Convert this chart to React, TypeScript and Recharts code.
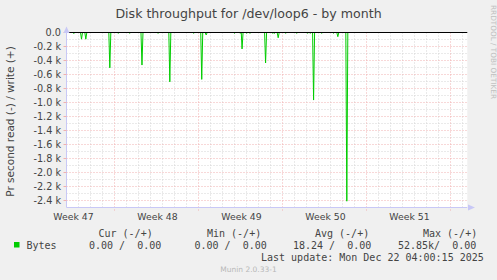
import { CartesianGrid, Line, LineChart, ReferenceLine, XAxis, YAxis } from "recharts";

// days counted from Mon 17 Nov 2025 (start of week 47)
const spikeDays = [
  3.61, 4.25, 4.61, 6.61, 7.31, 8.27, 9.29, 10.63, 11.61, 13.6, 14.27, 14.64, 17.0, 17.48, 17.63,
  18.02, 18.29, 19.59, 20.18, 20.31, 20.64, 21.27, 22.19, 23.1, 23.31, 23.59, 24.27, 25.25, 25.61,
  26.36,
];
const readBytes = [
  -15, -95, -95, -505, -10, -10, -465, -10, -705, -10, -670, -35, -10, -10, -235, -10, -10, -435,
  -10, -15, -75, -10, -10, -10, -10, -965, -10, -10, -60, -2410,
];
const sampleStep = 1 / 12; // 2h consolidation
const seriesRange = [3, 36.25];

const weekLabels = ["Week 47", "Week 48", "Week 49", "Week 50", "Week 51"];
const weekLabelDays = [3.5, 10.5, 17.5, 24.5, 31.5];
const weekStartDays = [7, 14, 21, 28, 35];
const dayLines = [
  4, 5, 6, 8, 9, 10, 11, 12, 13, 15, 16, 17, 18, 19, 20, 22, 23, 24, 25, 26, 27, 29, 30, 31, 32, 33,
  34, 36,
];
const yTicks = [-2400, -2200, -2000, -1800, -1600, -1400, -1200, -1000, -800, -600, -400, -200, 0];
const yMinor = [-2300, -2100, -1900, -1700, -1500, -1300, -1100, -900, -700, -500, -300, -100];

const legendHead = ["Cur (-/+)", "Min (-/+)", "Avg (-/+)", "Max (-/+)"];
const legendVals = ["0.00 /  0.00", "0.00 /  0.00", "18.24 /  0.00", "52.85k/  0.00"];

const rows: { d: number; v: number }[] = [
  { d: seriesRange[0], v: 0 },
  { d: seriesRange[1], v: 0 },
];
spikeDays.forEach((d, i) => {
  rows.push({ d: d - sampleStep, v: 0 }, { d, v: readBytes[i] }, { d: d + sampleStep, v: 0 });
});
rows.sort((a, b) => a.d - b.d);

const TXT = "#444";
const FONT = "DejaVu Sans, sans-serif";
const MONO = "DejaVu Sans Mono, monospace";
const MAJOR = "#f0b0b0";
const MINOR = "#d4d4d4";
const AXIS = "#c8c8f6";

const fmtY = (v: number) => (v === 0 ? "0.0" : `${(v / 1000).toFixed(1)} k`);

function YTick(props: any) {
  const { x, y, payload } = props;
  return (
    <text x={x} y={y + 3.5} textAnchor="end" fontFamily={FONT} fontSize={9.7} fill={TXT}>
      {fmtY(payload.value)}
    </text>
  );
}

function XTick(props: any) {
  const { x, y, index } = props;
  return (
    <text x={x + 1} y={y} textAnchor="middle" fontFamily={FONT} fontSize={9.3} fill={TXT}>
      {weekLabels[index]}
    </text>
  );
}

function Mono({ x, y, children }: { x: number; y: number; children: string }) {
  return (
    <text x={x} y={y} fontFamily={MONO} fontSize={10} fill={TXT} xmlSpace="preserve" style={{ whiteSpace: "pre" }}>
      {children}
    </text>
  );
}

export default function App() {
  const headX = [98.5, 207, 315, 423];
  const valX = [89, 194.5, 293, 398];
  return (
    <div style={{ position: "absolute", left: 0, top: 0, width: 497, height: 280, background: "#f0f0f0" }}>
      <LineChart
        width={497}
        height={280}
        data={rows}
        margin={{ top: 32.5, right: 29.7, bottom: 52.5, left: 6.5 }}
      >
        <CartesianGrid fill="#ffffff" horizontal={false} vertical={false} />
        {yMinor.map((v) => (
          <ReferenceLine key={"ym" + v} y={v} stroke={MINOR} strokeDasharray="1 2" />
        ))}
        {dayLines.map((d) => (
          <ReferenceLine key={"xm" + d} x={d} stroke={MINOR} strokeDasharray="1 2" />
        ))}
        {yTicks
          .filter((v) => v !== 0)
          .map((v) => (
            <ReferenceLine key={"yM" + v} y={v} stroke={MAJOR} strokeDasharray="1 2" />
          ))}
        {weekStartDays.map((d) => (
          <ReferenceLine
            key={"xM" + d}
            stroke={MAJOR}
            strokeDasharray="1 2"
            ifOverflow="visible"
            segment={[
              { x: d, y: 0 },
              { x: d, y: -2545 },
            ]}
          />
        ))}
        <XAxis
          type="number"
          dataKey="d"
          domain={[3, 36.4]}
          allowDataOverflow
          ticks={weekLabelDays}
          interval={0}
          height={20}
          tickLine={false}
          tickSize={0}
          tickMargin={12}
          axisLine={{ stroke: AXIS }}
          tick={<XTick />}
        />
        <YAxis
          type="number"
          domain={[-2500, 0]}
          allowDataOverflow
          ticks={yTicks}
          interval={0}
          width={60}
          tickSize={3}
          tickMargin={2.5}
          tickLine={{ stroke: MAJOR }}
          axisLine={{ stroke: AXIS }}
          tick={<YTick />}
        />
        <Line
          dataKey="v"
          type="linear"
          stroke="#00cc00"
          strokeWidth={1}
          dot={false}
          activeDot={false}
          isAnimationActive={false}
        />
        <ReferenceLine y={0} stroke="#000" strokeWidth={1} />
      </LineChart>
      <svg
        width={497}
        height={280}
        style={{ position: "absolute", left: 0, top: 0, pointerEvents: "none" }}
      >
        <polygon points="63.5,33 66.5,26.5 69.5,33" fill={AXIS} />
        <polygon points="468,204.5 475,207.5 468,210.5" fill={AXIS} />
        <text x={248.5} y={17.5} textAnchor="middle" fontFamily={FONT} fontSize={12.6} fill={TXT}>
          Disk throughput for /dev/loop6 - by month
        </text>
        <text
          x={14.3}
          y={121.5}
          textAnchor="middle"
          fontFamily={FONT}
          fontSize={10.5}
          fill={TXT}
          transform="rotate(-90 14.3 121.5)"
        >
          Pr second read (-) / write (+)
        </text>
        <text
          x={490.5}
          y={5}
          fontFamily={FONT}
          fontSize={7.3}
          fill="#c0c0c0"
          transform="rotate(90 490.5 5)"
        >
          RRDTOOL / TOBI OETIKER
        </text>
        {legendHead.map((t, i) => (
          <Mono key={t} x={headX[i]} y={236.5}>
            {t}
          </Mono>
        ))}
        <rect x={14} y={242} width={5.5} height={5.5} fill="#00cc00" />
        <Mono x={26.5} y={248.8}>
          Bytes
        </Mono>
        {legendVals.map((t, i) => (
          <Mono key={i} x={valX[i]} y={248.8}>
            {t}
          </Mono>
        ))}
        <Mono x={261} y={261}>
          Last update: Mon Dec 22 04:00:15 2025
        </Mono>
        <text x={248.5} y={272} textAnchor="middle" fontFamily={FONT} fontSize={7.5} fill="#b8b8b8">
          Munin 2.0.33-1
        </text>
      </svg>
    </div>
  );
}
